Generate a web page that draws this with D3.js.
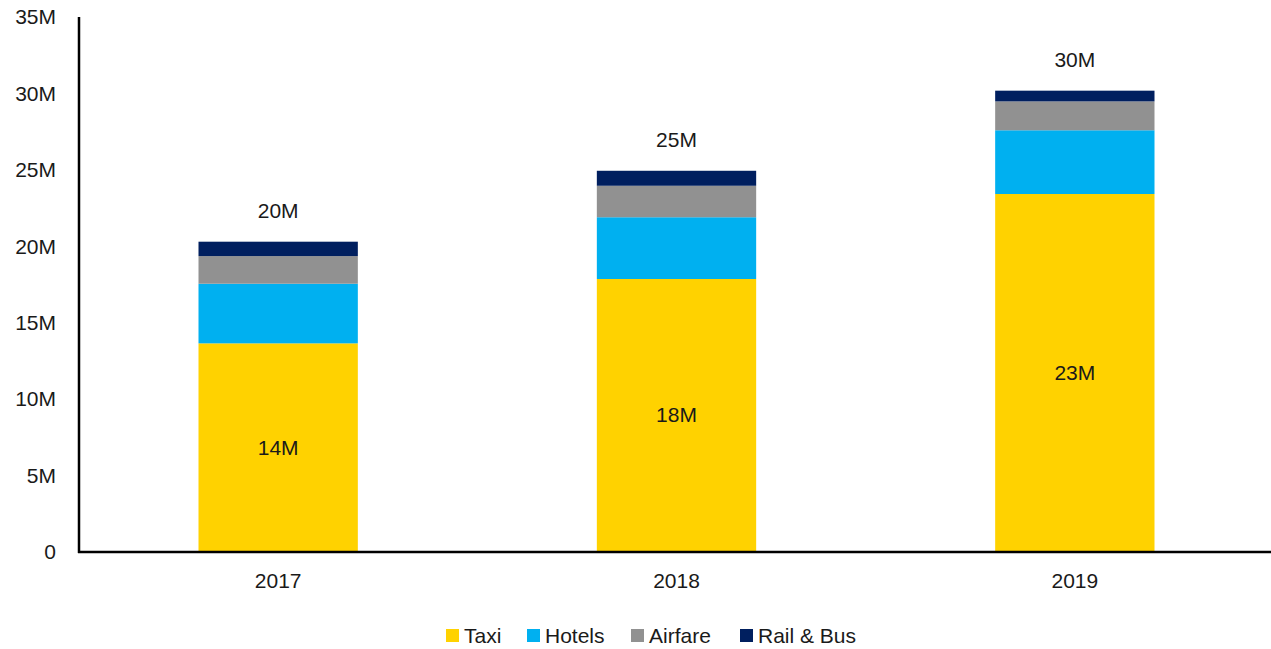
<!DOCTYPE html>
<html>
<head>
<meta charset="utf-8">
<script src="https://cdn.jsdelivr.net/npm/d3@7"></script>
<style>
  body { margin: 0; background: #fff; }
  svg text { font-family: "Liberation Sans", Arial, sans-serif; fill: #1a1a1a; }
</style>
</head>
<body>
<svg id="chart" width="1271" height="649"></svg>
<script>
var years = ['2017', '2018', '2019'];
var seriesNames = ['Taxi', 'Hotels', 'Airfare', 'Rail & Bus'];
var taxi = [13.65, 17.86, 23.42];
var hotels = [3.9, 4.04, 4.17];
var airfare = [1.81, 2.06, 1.89];
var railBus = [0.94, 0.98, 0.70];
var totalLabels = ['20M', '25M', '30M'];
var taxiLabels = ['14M', '18M', '23M'];
var yTicks = [0, 5, 10, 15, 20, 25, 30, 35];
var colors = ['#FFD200', '#00B0F0', '#919191', '#001F5F'];

var svg = d3.select('#chart');
var mLeft = 79, mRight = 1274, mTop = 17, mBottom = 552;
var fs = 21;

var rows = years.map(function (yr, i) {
  return { year: yr, 'Taxi': taxi[i], 'Hotels': hotels[i], 'Airfare': airfare[i], 'Rail & Bus': railBus[i] };
});
var stacked = d3.stack().keys(seriesNames)(rows);

var x = d3.scaleBand().domain(years).range([mLeft, mRight]).paddingInner(0.6).paddingOuter(0.3);
var y = d3.scaleLinear().domain([0, 35]).range([mBottom, mTop]);

// bars
svg.selectAll('g.series')
  .data(stacked)
  .enter().append('g')
  .attr('fill', function (d, i) { return colors[i]; })
  .selectAll('rect')
  .data(function (d) { return d; })
  .enter().append('rect')
  .attr('x', function (d) { return x(d.data.year); })
  .attr('width', x.bandwidth())
  .attr('y', function (d) { return y(d[1]); })
  .attr('height', function (d) { return y(d[0]) - y(d[1]); });

// y axis
var yAxis = d3.axisLeft(y).tickValues(yTicks).tickSize(0).tickPadding(23)
  .tickFormat(function (d) { return d === 0 ? '0' : d + 'M'; });
var gy = svg.append('g').attr('transform', 'translate(' + mLeft + ',0)').call(yAxis);
gy.select('.domain').remove();
gy.selectAll('text').attr('font-size', fs).attr('font-family', '"Liberation Sans", Arial, sans-serif').attr('fill', '#1a1a1a');

// x axis
var xAxis = d3.axisBottom(x).tickSize(0).tickPadding(21);
var gx = svg.append('g').attr('transform', 'translate(0,' + mBottom + ')').call(xAxis);
gx.select('.domain').remove();
gx.selectAll('text').attr('font-size', fs).attr('font-family', '"Liberation Sans", Arial, sans-serif').attr('fill', '#1a1a1a');

// axis lines
svg.append('line').attr('x1', mLeft).attr('x2', mLeft).attr('y1', mTop).attr('y2', mBottom + 1)
  .attr('stroke', '#000').attr('stroke-width', 2.5);
svg.append('line').attr('x1', mLeft - 1).attr('x2', 1271).attr('y1', mBottom).attr('y2', mBottom)
  .attr('stroke', '#000').attr('stroke-width', 2.5);

// total labels
var tops = stacked[stacked.length - 1];
svg.selectAll('text.total')
  .data(tops)
  .enter().append('text')
  .attr('class', 'total')
  .attr('x', function (d) { return x(d.data.year) + x.bandwidth() / 2; })
  .attr('y', function (d) { return y(d[1]) - 24; })
  .attr('text-anchor', 'middle')
  .attr('font-size', fs)
  .text(function (d, i) { return totalLabels[i]; });

// taxi labels
svg.selectAll('text.taxi')
  .data(stacked[0])
  .enter().append('text')
  .attr('class', 'taxi')
  .attr('x', function (d) { return x(d.data.year) + x.bandwidth() / 2; })
  .attr('y', function (d) { return (y(d[0]) + y(d[1])) / 2 + 7; })
  .attr('text-anchor', 'middle')
  .attr('font-size', fs)
  .text(function (d, i) { return taxiLabels[i]; });

// legend
var legendX = [446, 527, 631, 740];
var lg = svg.selectAll('g.legend')
  .data(seriesNames)
  .enter().append('g')
  .attr('transform', function (d, i) { return 'translate(' + legendX[i] + ',629)'; });
lg.append('rect').attr('width', 13).attr('height', 13).attr('fill', function (d, i) { return colors[i]; });
lg.append('text').attr('x', 18).attr('y', 14).attr('font-size', fs).text(function (d) { return d; });
</script>
</body>
</html>
